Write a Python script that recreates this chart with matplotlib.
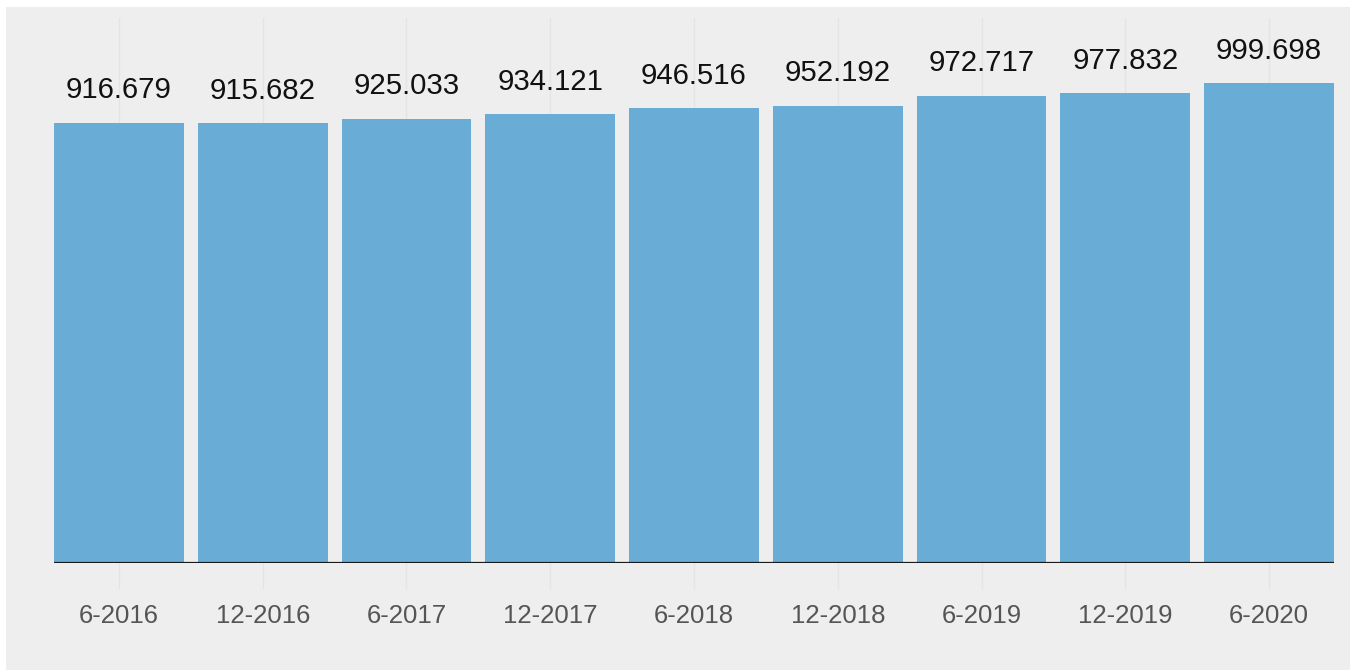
import matplotlib
matplotlib.use("Agg")
import matplotlib.pyplot as plt
from matplotlib.patches import Rectangle

categories = ["6-2016", "12-2016", "6-2017", "12-2017", "6-2018",
              "12-2018", "6-2019", "12-2019", "6-2020"]
values = [916.679, 915.682, 925.033, 934.121, 946.516,
          952.192, 972.717, 977.832, 999.698]
value_labels = ["916.679", "915.682", "925.033", "934.121", "946.516",
                "952.192", "972.717", "977.832", "999.698"]

plt.rcParams['font.family'] = ['Liberation Sans', 'DejaVu Sans']

W, H = 1350, 671
fig = plt.figure(figsize=(W / 100, H / 100), dpi=100)
fig.patch.set_facecolor("white")
bg = Rectangle((6 / W, 1 - 670 / H), (W - 6) / W, (670 - 7) / H,
               transform=fig.transFigure, facecolor="#eeeeee",
               edgecolor="none", zorder=-10)
fig.add_artist(bg)

ax = fig.add_axes([54 / W, 1 - 562.7 / H, (1334 - 54) / W, (562.7 - 18) / H])
ax.set_zorder(1)
ax.patch.set_visible(False)

bw = 0.904
x = list(range(len(categories)))
ax.set_xlim(-bw / 2, len(categories) - 1 + bw / 2)
ax.set_ylim(0, 1134.8)

for xi in x:
    ax.axvline(xi, ymin=-0.0464, ymax=1, color="#e4e4e4", lw=1, zorder=0.5, clip_on=False)

ax.bar(x, values, width=bw, color="#69acd6", zorder=2)
ax.axhline(0, color="#1a1a1a", lw=1.6, zorder=3)

for xi, v, lab in zip(x, values, value_labels):
    ax.annotate(lab, (xi, v), xytext=(0, 17.5), textcoords="offset points",
                ha="center", va="baseline", fontsize=21.2, color="#111111")

ax.set_xticks(x)
ax.set_xticklabels(categories, fontsize=18.5, color="#555555")
ax.tick_params(axis="x", length=0, pad=30)
ax.set_yticks([])
for s in ax.spines.values():
    s.set_visible(False)

fig.savefig("out.png", dpi=100)
